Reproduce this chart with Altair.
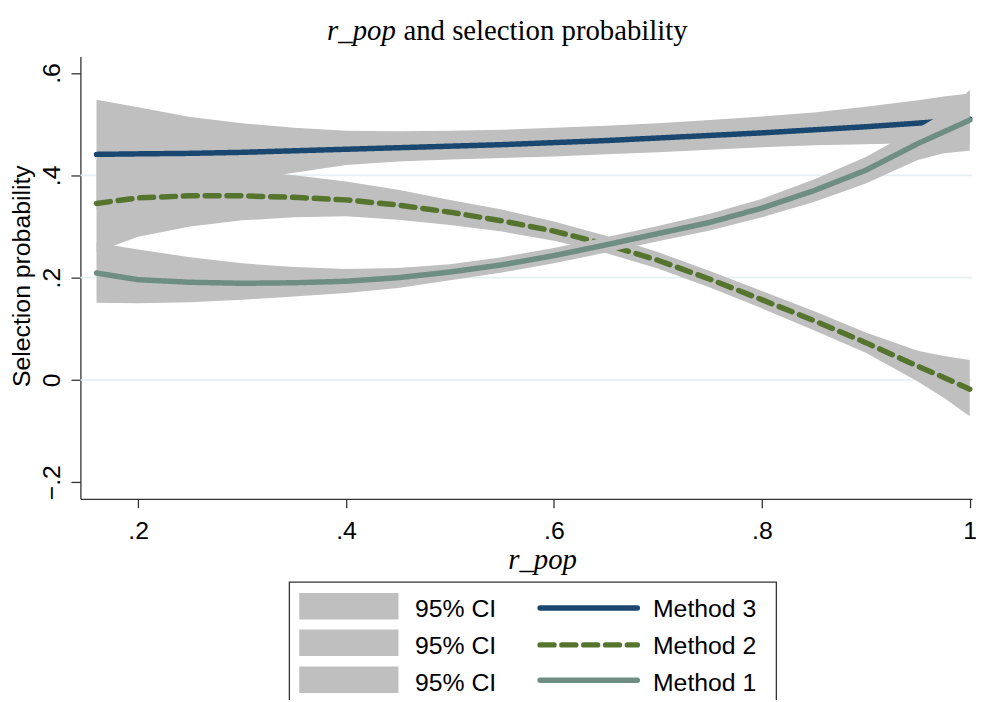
import altair as alt
import pandas as pd

# ---------------- data ----------------
r_pop = [0.16, 0.20, 0.25, 0.30, 0.35, 0.40, 0.45, 0.50, 0.55, 0.60,
         0.65, 0.70, 0.75, 0.80, 0.85, 0.90, 0.95, 0.975, 1.00]

m3_fit = [0.441, 0.442, 0.443, 0.445, 0.448, 0.451, 0.454, 0.457, 0.460, 0.464,
          0.468, 0.473, 0.478, 0.483, 0.489, 0.495, 0.502, 0.506, 0.510]
m3_hi = [0.548, 0.533, 0.514, 0.502, 0.493, 0.487, 0.486, 0.487, 0.489, 0.493,
         0.497, 0.502, 0.508, 0.515, 0.523, 0.534, 0.547, 0.554, 0.560]
m3_lo = [0.334, 0.352, 0.372, 0.390, 0.405, 0.420, 0.427, 0.431, 0.434, 0.437,
         0.441, 0.445, 0.450, 0.455, 0.459, 0.461, 0.463, 0.462, 0.460]

m2_fit = [0.345, 0.356, 0.360, 0.360, 0.357, 0.352, 0.342, 0.328, 0.311, 0.291,
          0.265, 0.234, 0.197, 0.157, 0.116, 0.073, 0.027, 0.005, -0.018]
m2_hi = [0.430, 0.425, 0.418, 0.410, 0.400, 0.388, 0.372, 0.352, 0.333, 0.310,
         0.282, 0.250, 0.213, 0.174, 0.135, 0.093, 0.057, 0.047, 0.039]
m2_lo = [0.250, 0.280, 0.300, 0.312, 0.318, 0.320, 0.313, 0.303, 0.290, 0.272,
         0.248, 0.218, 0.181, 0.140, 0.097, 0.053, -0.003, -0.035, -0.071]

m1_fit = [0.209, 0.196, 0.191, 0.189, 0.190, 0.193, 0.200, 0.211, 0.225, 0.243,
          0.264, 0.286, 0.308, 0.336, 0.370, 0.410, 0.462, 0.485, 0.508]
m1_hi = [0.268, 0.255, 0.240, 0.228, 0.221, 0.217, 0.219, 0.226, 0.240, 0.258,
         0.279, 0.301, 0.325, 0.354, 0.392, 0.436, 0.492, 0.522, 0.567]
m1_lo = [0.151, 0.150, 0.152, 0.157, 0.163, 0.170, 0.180, 0.195, 0.210, 0.228,
         0.249, 0.271, 0.292, 0.318, 0.348, 0.384, 0.430, 0.443, 0.448]

methods = ["Method 3", "Method 2", "Method 1"]
method_colors = ["#1a476f", "#55752f", "#6e8e84"]
method_dash = [[1, 0], [14, 8], [1, 0]]
ci_labels = ["95% CI", "95% CI", "95% CI"]
grid_values = [0, 0.2, 0.4]
y_ticks = [-0.2, 0, 0.2, 0.4, 0.6]
x_ticks = [0.2, 0.4, 0.6, 0.8, 1.0]

CI_GRAY = "#bfbfbf"
W, H = 899, 446
SANS = "Liberation Sans"
SERIF = "Liberation Serif"

fits = [m3_fit, m2_fit, m1_fit]
his = [m3_hi, m2_hi, m1_hi]
los = [m3_lo, m2_lo, m1_lo]

x_scale = alt.Scale(domain=[0.1445, 1.0022], nice=False, zero=False)
y_scale = alt.Scale(domain=[-0.2323, 0.6324], nice=False, zero=False)

label_expr = "replace(format(datum.value, '.1~f'), '0.', '.')"

x_axis = alt.Axis(
    values=x_ticks, grid=False, labelExpr=label_expr, labelFont=SANS,
    labelFontSize=25, labelColor="black", labelBaseline="alphabetic",
    labelPadding=31, labelFlush=False, labelOverlap=False,
    tickSize=9, tickColor="#333333", tickWidth=1.3,
    domainColor="#333333", domainWidth=1.3,
    title="r_pop", titleFont=SERIF, titleFontStyle="italic",
    titleFontWeight="normal", titleFontSize=29, titleColor="black",
    titleX=465.5, titleY=70, titleAlign="center", titleBaseline="alphabetic",
)
y_axis = alt.Axis(
    values=y_ticks, grid=False, labelExpr=label_expr, labelFont=SANS,
    labelFontSize=25, labelColor="black", labelAngle=270,
    labelAlign="center", labelBaseline="alphabetic", labelPadding=11.5,
    labelFlush=False, labelOverlap=False,
    tickSize=9.5, tickColor="#333333", tickWidth=1.3,
    domainColor="#333333", domainWidth=1.3,
    title="Selection probability", titleFont=SANS, titleFontSize=25,
    titleFontWeight="normal", titleColor="black", titleAngle=270,
    titleX=-51, titleY=221, titleAlign="center", titleBaseline="alphabetic",
)

layers = []

# grid lines + axes
grid_df = pd.DataFrame({"g": grid_values})
layers.append(
    alt.Chart(grid_df).mark_rule(color="#e6eff1", strokeWidth=1.6).encode(
        y=alt.Y("g:Q", scale=y_scale, axis=y_axis),
        x=alt.value(0), x2=alt.value(W),
    )
)

for name, col, dash, fit, hi, lo in zip(methods, method_colors, method_dash, fits, his, los):
    df = pd.DataFrame({"r_pop": r_pop, "fit": fit, "hi": hi, "lo": lo})
    area = alt.Chart(df).mark_area(color=CI_GRAY, opacity=1).encode(
        x=alt.X("r_pop:Q", scale=x_scale, axis=x_axis),
        y=alt.Y("lo:Q", scale=y_scale, axis=y_axis),
        y2="hi:Q",
    )
    line = alt.Chart(df).mark_line(
        color=col, strokeWidth=5.5, strokeDash=dash, strokeCap="round"
    ).encode(
        x=alt.X("r_pop:Q", scale=x_scale, axis=x_axis),
        y=alt.Y("fit:Q", scale=y_scale, axis=y_axis),
    )
    layers += [area, line]

one = pd.DataFrame({"k": [0]})

# title (mixed italic / roman)
layers.append(
    alt.Chart(one).mark_text(text="r_pop", font=SERIF, fontStyle="italic",
                             fontSize=29, align="right", baseline="alphabetic",
                             color="black").encode(x=alt.value(318), y=alt.value(-17))
)
layers.append(
    alt.Chart(one).mark_text(text="and selection probability", font=SERIF,
                             fontSize=29, align="left", baseline="alphabetic",
                             color="black").encode(x=alt.value(325.7), y=alt.value(-17))
)

# legend box
layers.append(
    alt.Chart(one).mark_rect(fill="white", stroke="#333333", strokeWidth=1.3).encode(
        x=alt.value(210.7), x2=alt.value(701.7), y=alt.value(530), y2=alt.value(660)
    )
)
swatch_top = [541, 577.7, 615]
baselines = [565.3, 602.3, 639.3]
line_y = [556, 593.3, 629]
for i in range(3):
    layers.append(
        alt.Chart(one).mark_rect(fill=CI_GRAY).encode(
            x=alt.value(220.7), x2=alt.value(320.7),
            y=alt.value(swatch_top[i]), y2=alt.value(swatch_top[i] + 26.7),
        )
    )
    layers.append(
        alt.Chart(one).mark_text(text=ci_labels[i], font=SANS, fontSize=25,
                                 align="left", baseline="alphabetic",
                                 color="black").encode(x=alt.value(337.3), y=alt.value(baselines[i]))
    )
    layers.append(
        alt.Chart(one).mark_rule(color=method_colors[i], strokeWidth=5.5,
                                 strokeDash=method_dash[i], strokeCap="round").encode(
            x=alt.value(463.5), x2=alt.value(561.5), y=alt.value(line_y[i])
        )
    )
    layers.append(
        alt.Chart(one).mark_text(text=methods[i], font=SANS, fontSize=25,
                                 align="left", baseline="alphabetic",
                                 color="black").encode(x=alt.value(577.3), y=alt.value(baselines[i]))
    )

chart = alt.layer(*layers).properties(
    width=W, height=H,
    autosize=alt.AutoSizeParams(type="none"),
    padding={"left": 73, "top": 46, "right": 4, "bottom": 200},
    background="white",
).configure_view(stroke=None)

chart.save("out.html", embed_options={"renderer": "svg", "actions": False})
